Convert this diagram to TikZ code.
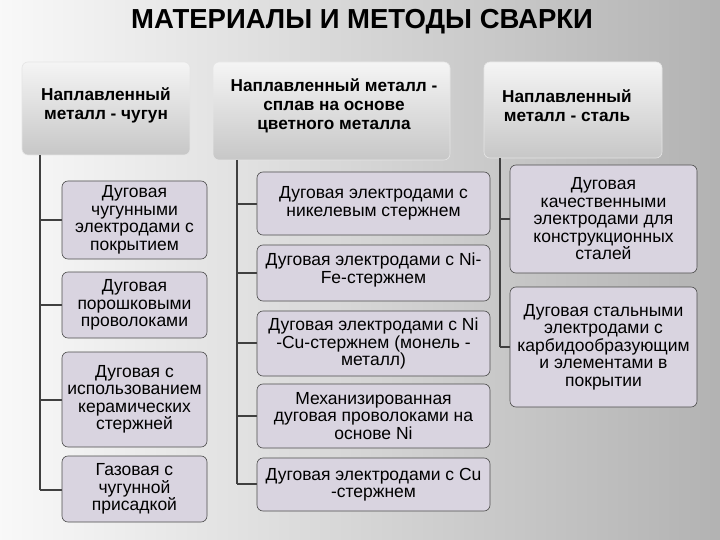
\documentclass[tikz,border=0pt]{standalone}
\usepackage{fontspec}
\setmainfont{Liberation Sans}
\definecolor{itemfill}{HTML}{D9D4E0}
\begin{document}
\begin{tikzpicture}[x=1pt,y=-1pt,
 hdr/.style={rounded corners=6pt,top color=white!92!gray,bottom color=black!22,draw=white!80!gray,line width=0.6pt},
 item/.style={rounded corners=6pt,fill=itemfill,draw=black!70,line width=0.6pt},
 txt/.style={align=center,font=\fontsize{17.5}{17.5}\selectfont,inner sep=0pt},
 htxt/.style={align=center,font=\bfseries\fontsize{17.2}{19}\selectfont,inner sep=0pt},
 conn/.style={draw=black!75,line width=1.6pt}]
\shade[left color=white!95!gray,right color=black!30] (0,0) rectangle (720,540);
\useasboundingbox (0,0) rectangle (720,540);
\node[font=\bfseries\fontsize{27.5}{30}\selectfont] (title) at (362,22) {МАТЕРИАЛЫ И МЕТОДЫ СВАРКИ};
% headers
\path[hdr] (22,62) rectangle (190,155);
\node[htxt] (h1) at (106,105) {Наплавленный\\металл - чугун};
\path[hdr] (213,62) rectangle (450,160);
\node[htxt] (h2) at (334,106) {Наплавленный металл -\\сплав на основе\\цветного металла};
\path[hdr] (484,62) rectangle (662,158);
\node[htxt] (h3) at (567,106) {Наплавленный\\металл - сталь};
% connectors
\coordinate (l0) at (40,155); \coordinate (l1) at (40,490);
\coordinate (m0) at (237,160); \coordinate (m1) at (237,484);
\coordinate (r0) at (500,158); \coordinate (r1) at (500,347);
\draw[conn] (l0) -- (l1);
\draw[conn] (m0) -- (m1);
\draw[conn] (r0) -- (r1);
\foreach \y in {220,305,400,490} \draw[conn] (40,\y) -- (62,\y);
\foreach \y in {204,273,343,416,484} \draw[conn] (237,\y) -- (257,\y);
\foreach \y in {219,347} \draw[conn] (500,\y) -- (510,\y);
% left
\path[item] (62,181) rectangle (207,259); \node[txt] (a1) at (134.5,220) {Дуговая\\чугунными\\электродами с\\покрытием};
\path[item] (62,272) rectangle (207,338); \node[txt] (a2) at (134.5,305) {Дуговая\\порошковыми\\проволоками};
\path[item] (62,352) rectangle (207,447); \node[txt] (a3) at (134.5,399.5) {Дуговая с\\использованием\\керамических\\стержней};
\path[item] (62,456) rectangle (207,522); \node[txt] (a4) at (134.5,489) {Газовая с\\чугунной\\присадкой};
% middle
\path[item] (257,172) rectangle (490,235); \node[txt] (b1) at (373.5,203.5) {Дуговая электродами с\\никелевым стержнем};
\path[item] (257,245) rectangle (490,301); \node[txt] (b2) at (373.5,270) {Дуговая электродами с Ni-\\Fe-стержнем};
\path[item] (257,311) rectangle (490,376); \node[txt] (b3) at (373.5,343.5) {Дуговая электродами с Ni\\-Cu-стержнем (монель -\\металл)};
\path[item] (257,384) rectangle (490,448); \node[txt] (b4) at (373.5,416) {Механизированная\\дуговая проволоками на\\основе Ni};
\path[item] (257,458) rectangle (490,511); \node[txt] (b5) at (373.5,484.5) {Дуговая электродами с Cu\\-стержнем};
% right
\path[item] (510,165) rectangle (697,273); \node[txt] (c1) at (603.5,219) {Дуговая\\качественными\\электродами для\\конструкционных\\сталей};
\path[item] (510,287) rectangle (697,407); \node[txt] (c2) at (603.5,347) {Дуговая стальными\\электродами с\\карбидообразующим\\и элементами в\\покрытии};
\end{tikzpicture}
\end{document}
